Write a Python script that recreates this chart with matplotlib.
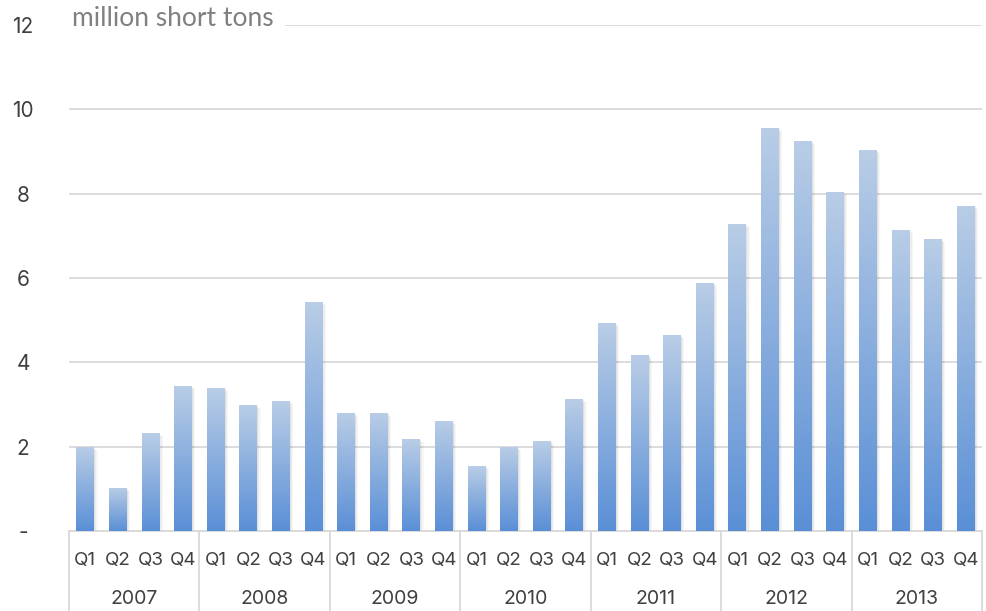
import numpy as np
import matplotlib
matplotlib.use("Agg")
import matplotlib.pyplot as plt
import matplotlib.transforms as mtransforms
from matplotlib.colors import LinearSegmentedColormap

years = ["2007", "2008", "2009", "2010", "2011", "2012", "2013"]
quarters = ["Q1", "Q2", "Q3", "Q4"]
values = [2.00, 1.02, 2.32, 3.44,
          3.39, 2.99, 3.08, 5.43,
          2.80, 2.80, 2.18, 2.61,
          1.54, 2.00, 2.13, 3.13,
          4.93, 4.17, 4.65, 5.88,
          7.28, 9.56, 9.25, 8.04,
          9.03, 7.14, 6.93, 7.71]
yticks = [0, 2, 4, 6, 8, 10, 12]
ytick_labels = ["-", "2", "4", "6", "8", "10", "12"]
unit_label = "million short tons"

plt.rcParams['font.family'] = ['Inter', 'DejaVu Sans']

fig = plt.figure(figsize=(9.87, 6.11), dpi=100)
ax = fig.add_axes([69/987, 1-531/611, (982-69)/987, (531-25)/611])

n = len(values)
x = np.arange(n)

cmap = LinearSegmentedColormap.from_list("g", ["#5A8FD6", "#B9CDE6"])
grad = np.linspace(0, 1, 256).reshape(-1, 1)

# soft shadows
for k, a in enumerate([0.05, 0.04, 0.03]):
    off = 0.03 + 0.025 * k
    ax.bar(x + off, values, width=0.55 + 0.02 * k, bottom=-0.03 - 0.02 * k,
           color="#000000", alpha=a, zorder=2, linewidth=0)
bars = ax.bar(x, values, width=0.55, color="none", zorder=3, linewidth=0)
for b in bars:
    x0, y0 = b.get_x(), b.get_y()
    w, h = b.get_width(), b.get_height()
    im = ax.imshow(grad, extent=[x0, x0 + w, y0, y0 + h], origin="lower",
                   cmap=cmap, aspect="auto", zorder=3, interpolation="bilinear")
    im.set_clip_path(b)
ax.set_xlim(-0.5, n - 0.5)
ax.set_ylim(0, 12)

# grid
ax.set_yticks(yticks)
ax.set_yticklabels(ytick_labels)
ax.yaxis.grid(True, color="#D9D9D9", linewidth=1.3, zorder=0)
ax.set_axisbelow(True)
for s in ["top", "right", "left"]:
    ax.spines[s].set_visible(False)
ax.spines["bottom"].set_color("#D9D9D9")
ax.spines["bottom"].set_linewidth(1.3)
ax.tick_params(axis="y", length=0, pad=33, labelsize=15, labelcolor="#404040")
for lbl in ax.get_yticklabels():
    lbl.set_horizontalalignment("center")

ax.set_xticks(x)
ax.set_xticklabels(quarters * len(years))
ax.tick_params(axis="x", length=0, pad=15, labelsize=13.5, labelcolor="#404040")

trans = mtransforms.blended_transform_factory(ax.transData, ax.transAxes)
sep_depth = -80/506
for i in range(len(years) + 1):
    xs = -0.5 + 4 * i
    ax.plot([xs, xs], [0, sep_depth], transform=trans, color="#D9D9D9", lw=1.3, clip_on=False)
for i, yr in enumerate(years):
    ax.text(1.5 + 4 * i, -68/506, yr, transform=trans, ha="center", va="center",
            fontsize=14, color="#404040")

fig.text(72/987, 1-19/611, unit_label, ha="left", va="center", fontsize=19,
         color="#808080", family=['Lato', 'DejaVu Sans'],
         bbox=dict(facecolor="white", edgecolor="none", pad=8))

fig.savefig("out.png", dpi=100)
